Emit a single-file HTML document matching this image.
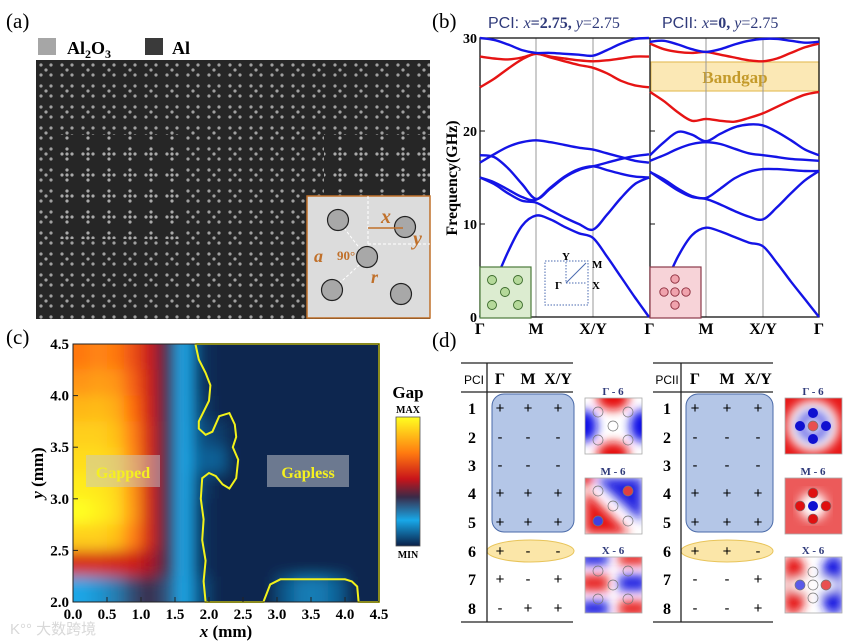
<!DOCTYPE html>
<html><head><meta charset="utf-8"><style>
html,body{margin:0;padding:0;background:#fff;}
svg{display:block;font-family:"Liberation Serif","Noto Serif CJK SC",serif;}
.sans{font-family:"Liberation Sans","Noto Sans CJK SC",sans-serif;}
</style></head><body>
<svg id="fig" width="857" height="644" viewBox="0 0 857 644" xmlns="http://www.w3.org/2000/svg">
<defs>
  <pattern id="pcx" width="21" height="21" patternUnits="userSpaceOnUse" x="36" y="60">
    <rect width="21" height="21" fill="#262626"/>
    <g fill="#a0a0a0"><circle cx="5" cy="5" r="1.6"/><circle cx="15" cy="5" r="1.6"/><circle cx="10" cy="10" r="1.6"/><circle cx="5" cy="15" r="1.6"/><circle cx="15" cy="15" r="1.6"/></g>
  </pattern>
  <pattern id="pcp" width="21" height="21" patternUnits="userSpaceOnUse" x="36" y="60">
    <rect width="21" height="21" fill="#262626"/>
    <g fill="#aaaaaa"><circle cx="10" cy="5" r="1.6"/><circle cx="5" cy="10" r="1.6"/><circle cx="10" cy="10" r="1.6"/><circle cx="15" cy="10" r="1.6"/><circle cx="10" cy="15" r="1.6"/></g>
  </pattern>
  <filter id="blurH" x="-10%" y="-10%" width="120%" height="120%"><feGaussianBlur stdDeviation="7"/></filter>
  <filter id="blurF" x="-20%" y="-20%" width="140%" height="140%"><feGaussianBlur stdDeviation="5"/></filter>
  <clipPath id="clipC"><rect x="73" y="344" width="306" height="258"/></clipPath>
  <clipPath id="fm1"><rect x="585" y="398" width="57" height="56"/></clipPath>
  <clipPath id="fm2"><rect x="585" y="478" width="57" height="56"/></clipPath>
  <clipPath id="fm3"><rect x="585" y="557" width="57" height="56"/></clipPath>
  <clipPath id="fm4"><rect x="785" y="398" width="57" height="56"/></clipPath>
  <clipPath id="fm5"><rect x="785" y="478" width="57" height="56"/></clipPath>
  <clipPath id="fm6"><rect x="785" y="557" width="57" height="56"/></clipPath>
</defs>

<!-- ============ Panel (a) ============ -->
<g>
  <text x="6" y="28" font-size="21">(a)</text>
  <rect x="38" y="38" width="18" height="17" fill="#a6a6a6"/>
  <text x="67" y="54" font-size="18" font-weight="bold">Al<tspan font-size="12" dy="4">2</tspan><tspan dy="-4">O</tspan><tspan font-size="12" dy="4">3</tspan></text>
  <rect x="145" y="38" width="18" height="17" fill="#3a3a3a"/>
  <text x="172" y="54" font-size="18" font-weight="bold">Al</text>
  <rect x="36" y="60" width="394" height="259" fill="url(#pcx)"/>
  <rect x="57" y="134" width="126" height="105" fill="url(#pcp)"/>
  <rect x="324" y="134" width="106" height="60" fill="url(#pcp)"/>
  <g>
    <rect x="307" y="196" width="123" height="122" fill="#dcdcdc" stroke="#c0702a" stroke-width="1.5"/>
    <g stroke="#fff" stroke-dasharray="3,2" stroke-width="1" fill="none">
      <line x1="368" y1="196" x2="368" y2="244"/><line x1="368" y1="244" x2="430" y2="244"/>
      <line x1="338" y1="220" x2="367" y2="258"/><line x1="367" y1="258" x2="332" y2="290"/>
    </g>
    <g fill="#a8a8a8" stroke="#222" stroke-width="1.2">
      <circle cx="338" cy="220" r="10.5"/><circle cx="405" cy="227" r="10.5"/><circle cx="367" cy="257" r="10.5"/><circle cx="332" cy="290" r="10.5"/><circle cx="401" cy="294" r="10.5"/>
    </g>
    <g fill="#c0702a" font-weight="bold" font-style="italic">
      <text x="381" y="223" font-size="20">x</text>
      <text x="413" y="245" font-size="20">y</text>
      <text x="314" y="262" font-size="18">a</text>
      <text x="371" y="283" font-size="18">r</text>
      <text x="337" y="260" font-size="13" font-style="normal">90°</text>
    </g>
    <line x1="368" y1="228" x2="403" y2="228" stroke="#c0702a" stroke-width="1.5"/>
  </g>
</g>

<!-- ============ Panel (b) ============ -->
<g>
  <text x="432" y="28" font-size="21">(b)</text>
  <text x="488" y="28" font-size="16" fill="#2f3a7a"><tspan class="sans">PCI: </tspan><tspan font-style="italic">x</tspan><tspan font-weight="bold">=2.75, </tspan><tspan font-style="italic">y</tspan>=2.75</text>
  <text x="662" y="28" font-size="16" fill="#2f3a7a"><tspan class="sans">PCII: </tspan><tspan font-style="italic">x</tspan><tspan font-weight="bold">=0, </tspan><tspan font-style="italic">y</tspan>=2.75</text>
  <rect x="651" y="62" width="168" height="29" fill="#fbe8b5" stroke="#e5c060" stroke-width="1.2"/>
  <text x="735" y="83" font-size="17" font-weight="bold" fill="#c49a2a" text-anchor="middle">Bandgap</text>
  <g id="bAxes"></g>
  <g id="bBands"></g>
  <text transform="translate(457,178) rotate(-90)" font-size="16" font-weight="bold" text-anchor="middle">Frequency(GHz)</text>
  <g>
    <rect x="480" y="267" width="51" height="51" fill="#dcecd0" stroke="#4b7a3a" stroke-width="1.2"/>
    <g fill="#b5d99a" stroke="#3a6a2a" stroke-width="0.9"><circle cx="492" cy="280" r="4.5"/><circle cx="518" cy="280" r="4.5"/><circle cx="505" cy="292" r="4.5"/><circle cx="492" cy="305" r="4.5"/><circle cx="518" cy="305" r="4.5"/></g>
  </g>
  <g>
    <rect x="545" y="261" width="43" height="44" fill="none" stroke="#4a6ab0" stroke-dasharray="1.5,1.5" stroke-width="1"/>
    <polyline points="566,262 566,283 587,283" fill="none" stroke="#4a6ab0" stroke-dasharray="1.5,1.5"/>
    <line x1="566" y1="283" x2="586" y2="263" stroke="#4a6ab0" stroke-width="1"/>
    <g font-size="11" font-weight="bold"><text x="562" y="260">Y</text><text x="592" y="268">M</text><text x="592" y="289">X</text><text x="555" y="289">Γ</text></g>
  </g>
  <g>
    <rect x="650" y="267" width="51" height="51" fill="#f7d3d8" stroke="#8a3a4a" stroke-width="1.2"/>
    <g fill="#f0a3ad" stroke="#8a2a3a" stroke-width="0.9"><circle cx="675" cy="279" r="4.2"/><circle cx="664" cy="292" r="4.2"/><circle cx="675" cy="292" r="4.2"/><circle cx="686" cy="292" r="4.2"/><circle cx="675" cy="305" r="4.2"/></g>
  </g>
</g>

<!-- ============ Panel (c) ============ -->
<g>
  <text x="6" y="344" font-size="21">(c)</text>
  <g clip-path="url(#clipC)"><g id="heat" filter="url(#blurH)"></g></g>
  <path id="contour" fill="none" stroke="#f2f21a" stroke-width="2"/>
  <g id="cAxes"></g>
  <rect x="86" y="455" width="74" height="32" fill="#c8c8c8" opacity="0.5"/>
  <text x="123" y="478" font-size="16" font-weight="bold" fill="#f5f020" text-anchor="middle">Gapped</text>
  <rect x="267" y="455" width="82" height="32" fill="#8c96a6" opacity="0.75"/>
  <text x="308" y="478" font-size="16" font-weight="bold" fill="#f5f020" text-anchor="middle">Gapless</text>
  <text transform="translate(43,473) rotate(-90)" font-size="17" font-weight="bold" text-anchor="middle"><tspan font-style="italic">y</tspan> (mm)</text>
  <text x="226" y="637" font-size="17" font-weight="bold" text-anchor="middle"><tspan font-style="italic">x</tspan> (mm)</text>
  <g>
    <defs><linearGradient id="cbg" x1="0" y1="0" x2="0" y2="1">
      <stop offset="0" stop-color="#ffff20"/><stop offset="0.28" stop-color="#ff7a10"/><stop offset="0.48" stop-color="#c8141a"/><stop offset="0.62" stop-color="#3a2a48"/><stop offset="0.8" stop-color="#18a8e8"/><stop offset="1" stop-color="#0a2048"/></linearGradient></defs>
    <rect x="396" y="417" width="24" height="129" fill="url(#cbg)" stroke="#555" stroke-width="0.8"/>
    <text x="408" y="398" font-size="17" font-weight="bold" text-anchor="middle">Gap</text>
    <text x="408" y="413" font-size="10" font-weight="bold" text-anchor="middle">MAX</text>
    <text x="408" y="558" font-size="10" font-weight="bold" text-anchor="middle">MIN</text>
  </g>
  <text x="10" y="634" font-size="15" fill="#d8d8d8" class="sans">K°° 大数跨境</text>
</g>

<!-- ============ Panel (d) ============ -->
<g>
  <text x="432" y="347" font-size="21">(d)</text>
  <g id="tables"></g>
  <g>
    <text x="613" y="395" font-size="11" font-weight="bold" fill="#2f3a7a" text-anchor="middle">Γ - 6</text>
    <g clip-path="url(#fm1)"><rect x="585" y="398" width="57" height="56" fill="#fff"/>
      <g filter="url(#blurF)"><ellipse cx="613" cy="398" rx="16" ry="12" fill="#e61010"/><ellipse cx="613" cy="454" rx="16" ry="12" fill="#e61010"/><ellipse cx="585" cy="426" rx="12" ry="16" fill="#1010e6"/><ellipse cx="642" cy="426" rx="12" ry="16" fill="#1010e6"/></g>
      <g fill="none" stroke="#777" stroke-width="0.7"><circle cx="598" cy="412" r="5"/><circle cx="628" cy="412" r="5"/><circle cx="598" cy="440" r="5"/><circle cx="628" cy="440" r="5"/><circle cx="613" cy="426" r="5" fill="#fff"/></g></g>
    <rect x="585" y="398" width="57" height="56" fill="none" stroke="#aaa" stroke-width="0.8"/>
  </g>
  <g>
    <text x="613" y="475" font-size="11" font-weight="bold" fill="#2f3a7a" text-anchor="middle">M - 6</text>
    <g clip-path="url(#fm2)"><rect x="585" y="478" width="57" height="56" fill="#fff"/>
      <g filter="url(#blurF)"><polygon points="595,478 642,478 642,522" fill="#2020e0"/><polygon points="585,490 585,534 630,534" fill="#e61818"/><circle cx="585" cy="478" r="8" fill="#e61818"/></g>
      <circle cx="628" cy="491" r="5" fill="#e04040"/><circle cx="598" cy="521" r="5" fill="#4040e0"/>
      <g fill="none" stroke="#777" stroke-width="0.7"><circle cx="598" cy="491" r="5"/><circle cx="628" cy="491" r="5"/><circle cx="598" cy="521" r="5"/><circle cx="628" cy="521" r="5"/><circle cx="613" cy="506" r="5"/></g></g>
    <rect x="585" y="478" width="57" height="56" fill="none" stroke="#aaa" stroke-width="0.8"/>
  </g>
  <g>
    <text x="613" y="554" font-size="11" font-weight="bold" fill="#2f3a7a" text-anchor="middle">X - 6</text>
    <g clip-path="url(#fm3)"><rect x="585" y="557" width="57" height="56" fill="#fff"/>
      <g filter="url(#blurF)" opacity="0.95"><rect x="580" y="552" width="28" height="13" fill="#1818e0"/><rect x="580" y="575" width="28" height="16" fill="#e61818"/><rect x="580" y="601" width="28" height="15" fill="#1818e0"/>
      <rect x="619" y="552" width="28" height="13" fill="#e61818"/><rect x="619" y="575" width="28" height="16" fill="#1818e0"/><rect x="619" y="601" width="28" height="15" fill="#e61818"/></g>
      <g fill="none" stroke="#777" stroke-width="0.7"><circle cx="598" cy="571" r="5"/><circle cx="628" cy="571" r="5"/><circle cx="598" cy="599" r="5"/><circle cx="628" cy="599" r="5"/><circle cx="613" cy="585" r="5"/></g></g>
    <rect x="585" y="557" width="57" height="56" fill="none" stroke="#aaa" stroke-width="0.8"/>
  </g>
  <g>
    <text x="813" y="395" font-size="11" font-weight="bold" fill="#2f3a7a" text-anchor="middle">Γ - 6</text>
    <g clip-path="url(#fm4)"><rect x="785" y="398" width="57" height="56" fill="#e81818"/>
      <g filter="url(#blurF)"><circle cx="813" cy="426" r="26" fill="#fff"/><circle cx="813" cy="426" r="17" fill="#3a3ae6"/><circle cx="813" cy="426" r="7" fill="#fff"/></g>
      <g fill="#1010d0"><circle cx="813" cy="413" r="5"/><circle cx="800" cy="426" r="5"/><circle cx="826" cy="426" r="5"/><circle cx="813" cy="439" r="5"/></g>
      <circle cx="813" cy="426" r="5" fill="#e85050" stroke="#777" stroke-width="0.7"/></g>
    <rect x="785" y="398" width="57" height="56" fill="none" stroke="#aaa" stroke-width="0.8"/>
  </g>
  <g>
    <text x="813" y="475" font-size="11" font-weight="bold" fill="#2f3a7a" text-anchor="middle">M - 6</text>
    <g clip-path="url(#fm5)"><rect x="785" y="478" width="57" height="56" fill="#ec5a5a"/>
      <g filter="url(#blurF)"><circle cx="813" cy="506" r="14" fill="#fff"/></g>
      <g fill="#e01010" stroke="#777" stroke-width="0.6"><circle cx="813" cy="493" r="5"/><circle cx="800" cy="506" r="5"/><circle cx="826" cy="506" r="5"/><circle cx="813" cy="519" r="5"/></g>
      <circle cx="813" cy="506" r="5" fill="#1010d0"/></g>
    <rect x="785" y="478" width="57" height="56" fill="none" stroke="#aaa" stroke-width="0.8"/>
  </g>
  <g>
    <text x="813" y="554" font-size="11" font-weight="bold" fill="#2f3a7a" text-anchor="middle">X - 6</text>
    <g clip-path="url(#fm6)"><rect x="785" y="557" width="57" height="56" fill="#fff"/>
      <g filter="url(#blurF)"><polygon points="785,557 800,557 810,585 800,613 785,613" fill="#e61818"/><polygon points="842,557 827,557 817,585 827,613 842,613" fill="#1818e0"/><ellipse cx="813" cy="585" rx="26" ry="8" fill="#fff"/></g>
      <circle cx="800" cy="585" r="5" fill="#5a5ae8"/><circle cx="826" cy="585" r="5" fill="#e85050"/>
      <g fill="none" stroke="#777" stroke-width="0.7"><circle cx="813" cy="572" r="5"/><circle cx="813" cy="585" r="5"/><circle cx="813" cy="598" r="5"/><circle cx="800" cy="585" r="5"/><circle cx="826" cy="585" r="5"/></g></g>
    <rect x="785" y="557" width="57" height="56" fill="none" stroke="#aaa" stroke-width="0.8"/>
  </g>
</g>
</svg>

<script>
// ---------- Panel (b) data ----------
var kLabels = ["Γ","M","X/Y","Γ"];
var freqTicks = [0,10,20,30];
var pci_b1 = [0,3.5,7,9.8,10.9,10.5,9.7,9,8.5,6.5,4.3,2.1,0];
var pci_b2 = [15,14.3,13.3,12.5,12.3,11.5,10.7,10,9.4,11,12.8,14.3,15];
var pci_b3 = [17.4,17.2,16,14.3,12.7,13.8,15,15.8,16.2,16.6,17,17.3,17.5];
var pci_b4 = [15,14.5,13.7,12.9,12.6,13.9,15.1,15.9,16.2,15.8,15.4,15.1,15];
var pci_b5 = [16.6,17.5,18.3,18.8,19,18.8,18.5,18.2,18,17.6,17.2,16.8,16.6];
var pci_r1 = [24.7,25.6,26.7,27.7,28.3,27.9,27.5,27.1,26.8,26.2,25.4,24.9,24.7];
var pci_r2 = [28,27.8,27.7,27.9,28.3,28,27.8,27.6,27.5,27.6,27.8,28,28];
var pci_t1 = [30,29.8,29.3,28.7,28.4,28.4,28.3,28.2,28.1,28.7,29.4,29.9,30];
var pcii_b1 = [0,3.2,6.5,8.8,9.6,9.2,8.6,8,7.6,5.8,3.8,1.9,0];
var pcii_b2 = [15.6,14.6,13.6,12.9,12.7,12.1,11.4,10.8,10.5,11.8,13.3,14.7,15.7];
var pcii_b3 = [15.6,14.8,13.8,13,12.8,13.8,14.9,15.6,15.9,15.9,15.8,15.7,15.7];
var pcii_b4 = [16.8,17.4,18.1,18.6,18.8,18.6,18.1,17.6,17.4,17.2,17,16.9,16.8];
var pcii_b5 = [17.4,18.8,19.9,19.6,18.9,19.7,20.4,20.7,20.6,19.9,19,18,17.4];
var pcii_r1 = [24.2,23.2,22,21.1,21.3,21.1,21,21.4,21.9,22.6,23.3,23.9,24.2];
var pcii_r2 = [29.4,28.8,28.5,28.4,28.5,28.2,27.9,27.6,27.5,27.8,28.4,29,29.4];
var pcii_t1 = [29.6,29.7,29.3,28.8,28.5,28.8,29.3,29.7,29.9,29.9,29.7,29.5,29.6];

// ---------- Panel (c) data ----------
var xTicksC = ["0.0","0.5","1.0","1.5","2.0","2.5","3.0","3.5","4.0","4.5"];
var yTicksC = ["2.0","2.5","3.0","3.5","4.0","4.5"];
var gapRow0 = [.72,.75,.72,.62,.45,.3,.15,.02,0,0,0,0,0,0,0,0,0,0];
var gapRow1 = [.78,.8,.78,.66,.47,.3,.15,.02,0,0,0,0,0,0,0,0,0,0];
var gapRow2 = [.85,.86,.83,.7,.48,.3,.15,.03,0,0,0,0,0,0,0,0,0,0];
var gapRow3 = [.9,.9,.87,.74,.5,.3,.15,.05,.03,0,0,0,0,0,0,0,0,0];
var gapRow4 = [.93,.93,.9,.76,.5,.3,.15,.07,.07,0,0,0,0,0,0,0,0,0];
var gapRow5 = [.96,.95,.92,.78,.5,.3,.15,.03,0,0,0,0,0,0,0,0,0,0];
var gapRow6 = [1,.97,.93,.79,.5,.3,.15,.02,0,0,0,0,0,0,0,0,0,0];
var gapRow7 = [.9,.9,.87,.74,.5,.3,.15,.02,0,0,0,0,0,0,0,0,0,0];
var gapRow8 = [.52,.52,.5,.48,.42,.3,.15,.02,0,0,0,0,0,0,0,0,0,0];
var gapRow9 = [.15,.17,.2,.26,.3,.25,.15,.05,0,0,0,0,.06,.1,.1,.07,0,0];
var contourX = [1.8,1.85,1.95,2.02,2.0,1.85,1.85,1.95,2.05,2.15,2.3,2.38,2.4,2.35,2.43,2.4,2.3,2.2,2.1,2.0,1.9,1.88,1.92,1.9,1.95,1.92,1.95,2.8,2.9,3.05,3.5,4.0,4.1,4.18,4.2,4.5,4.5,1.8];
var contourY = [4.5,4.35,4.22,4.1,3.95,3.75,3.68,3.62,3.65,3.8,3.83,3.72,3.6,3.5,3.38,3.2,3.1,3.14,3.22,3.25,3.2,3.0,2.8,2.6,2.4,2.2,2.0,2.0,2.17,2.22,2.22,2.22,2.2,2.15,2.0,2.0,4.5,4.5];

// ---------- Panel (d) data ----------
var symHeaders = ["Γ","M","X/Y"];
var pciSym = [["+","+","+"],["-","-","-"],["-","-","-"],["+","+","+"],["+","+","+"],["+","-","-"],["+","-","+"],["-","+","+"]];
var pciiSym = [["+","+","+"],["-","-","-"],["-","-","-"],["+","+","+"],["+","+","+"],["+","+","-"],["-","-","+"],["-","-","+"]];

var NS = "http://www.w3.org/2000/svg";
function mk(tag, attrs, parent){var e=document.createElementNS(NS,tag);for(var k in attrs)e.setAttribute(k,attrs[k]);if(parent)parent.appendChild(e);return e;}

var yTop=38, yBot=317;
function fy(f){return yBot-(f/30)*(yBot-yTop);}
var pciNodes=[480,536,593,649], pciiNodes=[650,706,763,819];
function kx(k,nodes){var s=Math.min(2,Math.floor(k/4));var t=(k-4*s)/4;return nodes[s]+t*(nodes[s+1]-nodes[s]);}
function smoothPath(pts){var d="M"+pts[0][0].toFixed(1)+","+pts[0][1].toFixed(1);
  for(var i=0;i<pts.length-1;i++){var p0=pts[Math.max(0,i-1)],p1=pts[i],p2=pts[i+1],p3=pts[Math.min(pts.length-1,i+2)];
    var c1x=p1[0]+(p2[0]-p0[0])/6,c1y=p1[1]+(p2[1]-p0[1])/6,c2x=p2[0]-(p3[0]-p1[0])/6,c2y=p2[1]-(p3[1]-p1[1])/6;
    d+=" C"+c1x.toFixed(1)+","+c1y.toFixed(1)+" "+c2x.toFixed(1)+","+c2y.toFixed(1)+" "+p2[0].toFixed(1)+","+p2[1].toFixed(1);}
  return d;}
var bAx=document.getElementById("bAxes"), bB=document.getElementById("bBands");
[536,593,706,763].forEach(function(x){var l=mk("line",{x1:x,y1:yTop,x2:x,y2:yBot,stroke:"#999","stroke-width":1},bAx);

});
var fr=mk("rect",{x:480,y:yTop,width:339,height:yBot-yTop,fill:"none",stroke:"#111","stroke-width":1.3},bAx);


var mid=mk("line",{x1:650,y1:yTop,x2:650,y2:yBot,stroke:"#111","stroke-width":1.3},bAx);


freqTicks.forEach(function(f){
  mk("line",{x1:480,y1:fy(f),x2:485,y2:fy(f),stroke:"#111"},bAx);
  mk("line",{x1:650,y1:fy(f),x2:655,y2:fy(f),stroke:"#111"},bAx);
  var t=mk("text",{x:477,y:fy(f)+5,"font-size":14,"font-weight":"bold","text-anchor":"end"},bAx);t.textContent=f;
  
  
});
[pciNodes,pciiNodes].forEach(function(nodes,pi){
  kLabels.forEach(function(lb,i){ if(pi==1&&i==0)return;
    var x=(pi==0&&i==3)?649.5:nodes[i];
    var t=mk("text",{x:x,y:334,"font-size":16,"font-weight":"bold","text-anchor":"middle"},bAx);t.textContent=lb;
    
    });
});
function drawBand(arr,nodes,color,name){
  var pts=arr.map(function(f,k){return [kx(k,nodes),fy(f)];});
  var p=mk("path",{d:smoothPath(pts),fill:"none",stroke:color,"stroke-width":2.4,"stroke-linejoin":"round"},bB);
  
  
}
var blue="#1414e6", red="#e61414";
drawBand(pci_b1,pciNodes,blue,"pci-band-1");drawBand(pci_b2,pciNodes,blue,"pci-band-2");drawBand(pci_b3,pciNodes,blue,"pci-band-3");
drawBand(pci_b4,pciNodes,blue,"pci-band-4");drawBand(pci_b5,pciNodes,blue,"pci-band-5");drawBand(pci_r1,pciNodes,red,"pci-band-6");
drawBand(pci_r2,pciNodes,red,"pci-band-7");drawBand(pci_t1,pciNodes,blue,"pci-band-8");
drawBand(pcii_b1,pciiNodes,blue,"pcii-band-1");drawBand(pcii_b2,pciiNodes,blue,"pcii-band-2");drawBand(pcii_b3,pciiNodes,blue,"pcii-band-3");
drawBand(pcii_b4,pciiNodes,blue,"pcii-band-4");drawBand(pcii_b5,pciiNodes,blue,"pcii-band-5");drawBand(pcii_r1,pciiNodes,red,"pcii-band-6");
drawBand(pcii_r2,pciiNodes,red,"pcii-band-7");drawBand(pcii_t1,pciiNodes,blue,"pcii-band-8");

var cL=73,cR=379,cT=344,cB=602;
function cx(v){return cL+(v/4.5)*(cR-cL);}
function cy(v){return cB-((v-2)/2.5)*(cB-cT);}
var cmapStops=[[0,[10,37,80]],[0.15,[26,166,230]],[0.3,[58,42,72]],[0.45,[200,20,26]],[0.7,[255,110,16]],[1,[255,255,32]]];
function cmap(v){for(var i=0;i<cmapStops.length-1;i++){var a=cmapStops[i],b=cmapStops[i+1];if(v<=b[0]){var t=(v-a[0])/(b[0]-a[0]);
  return "rgb("+a[1].map(function(c,j){return Math.round(c+t*(b[1][j]-c));}).join(",")+")";}}return "rgb(255,255,32)";}
var heat=document.getElementById("heat");
var gapRows=[gapRow0,gapRow1,gapRow2,gapRow3,gapRow4,gapRow5,gapRow6,gapRow7,gapRow8,gapRow9];
gapRows.forEach(function(row,r){row.forEach(function(v,c){
  var x0=cx(c*0.25),x1=cx((c+1)*0.25),y0=cy(4.5-r*0.25),y1=cy(4.5-(r+1)*0.25);
  if(c==0)x0-=25; if(c==row.length-1)x1+=25; if(r==0)y0-=25; if(r==gapRows.length-1)y1+=25;
  var e=mk("rect",{x:x0,y:y0,width:x1-x0+0.5,height:y1-y0+0.5,fill:cmap(v)},heat);
  
  
});});
var cd=contourX.map(function(x,i){return (i?"L":"M")+cx(x).toFixed(1)+","+cy(contourY[i]).toFixed(1);}).join(" ");
document.getElementById("contour").setAttribute("d",cd);
var cA=document.getElementById("cAxes");
var cf=mk("rect",{x:cL,y:cT,width:cR-cL,height:cB-cT,fill:"none",stroke:"#222","stroke-width":1},cA);


xTicksC.forEach(function(lb){var v=parseFloat(lb);
  mk("line",{x1:cx(v),y1:cB,x2:cx(v),y2:cB-5,stroke:"#222"},cA);
  var t=mk("text",{x:cx(v),y:cB+17,"font-size":15,"font-weight":"bold","text-anchor":"middle"},cA);t.textContent=lb;
  
  });
yTicksC.forEach(function(lb){var v=parseFloat(lb);
  mk("line",{x1:cL,y1:cy(v),x2:cL+5,y2:cy(v),stroke:"#222"},cA);
  var t=mk("text",{x:cL-4,y:cy(v)+5,"font-size":15,"font-weight":"bold","text-anchor":"end"},cA);t.textContent=lb;
  
  });

var tb=document.getElementById("tables");
var rowY=[408,437,465,493,522,551,579,608];
function drawTable(x0,x1,vx,numX,colX,name,syms,rectX1){
  var g=mk("g",{},tb);
  
  
  mk("rect",{x:vx+5,y:394,width:rectX1-vx-5,height:138,rx:12,fill:"#b4c6e7",stroke:"#4a6aa8","stroke-width":1},g);
  mk("ellipse",{cx:(vx+rectX1)/2,cy:551,rx:(rectX1-vx)/2,ry:11,fill:"#fbe6a8",stroke:"#e8c45a","stroke-width":1},g);
  mk("line",{x1:x0,y1:363,x2:x1,y2:363,stroke:"#222","stroke-width":1.3},g);
  mk("line",{x1:x0,y1:392,x2:x1,y2:392,stroke:"#222","stroke-width":1.3},g);
  mk("line",{x1:x0,y1:622,x2:x1,y2:622,stroke:"#222","stroke-width":1.3},g);
  mk("line",{x1:vx,y1:363,x2:vx,y2:622,stroke:"#222","stroke-width":1.3},g);
  var h=mk("text",{x:(x0+vx)/2,y:384,"font-size":12,"text-anchor":"middle","class":"sans"},g);h.textContent=name=="pci-symmetry-table"?"PCI":"PCII";
  symHeaders.forEach(function(s,i){var t=mk("text",{x:colX[i],y:384,"font-size":16,"font-weight":"bold","text-anchor":"middle"},g);t.textContent=s;});
  syms.forEach(function(r,ri){
    var n=mk("text",{x:numX,y:rowY[ri]+6,"font-size":16,"font-weight":"bold","text-anchor":"middle"},g);n.textContent=ri+1;
    r.forEach(function(s,ci){var t=mk("text",{x:colX[ci],y:rowY[ri]+5,"font-size":15,"text-anchor":"middle","class":"sans"},g);t.textContent=s;});
  });
}
drawTable(461,573,487,472,[500,528,558],"pci-symmetry-table",pciSym,574);
drawTable(653,773,681,667,[695,727,758],"pcii-symmetry-table",pciiSym,773);
</script>
</body></html>
